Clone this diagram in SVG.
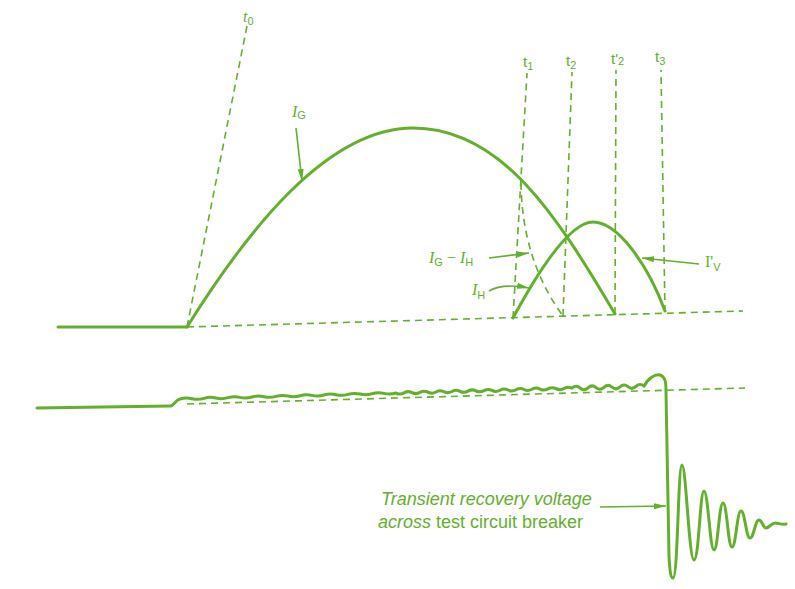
<svg xmlns="http://www.w3.org/2000/svg" width="795" height="589" viewBox="0 0 795 589">
<defs>
<style>
.solid{fill:none;stroke:#62b02c;stroke-width:3;stroke-linecap:round;stroke-linejoin:round}
.dash{fill:none;stroke:#62b02c;stroke-width:1.6;stroke-dasharray:7 5}
.arr{fill:none;stroke:#62b02c;stroke-width:1.6;marker-end:url(#ah)}
.lab{fill:#62b02c;font-family:"Liberation Serif",serif;font-size:16px}
.it{font-style:italic}
.sub{font-family:"Liberation Sans",sans-serif;font-size:11px;font-style:normal}
.sans{fill:#62b02c;font-family:"Liberation Sans",sans-serif;font-size:15px}
.note{fill:#62b02c;font-family:"Liberation Sans",sans-serif;font-size:18px}
</style>
<marker id="ah" markerUnits="userSpaceOnUse" markerWidth="13" markerHeight="8" refX="12" refY="4" orient="auto">
<path d="M0,1 L12,4 L0,7 z" fill="#62b02c"/>
</marker>
</defs>
<rect width="795" height="589" fill="#ffffff"/>

<g id="time-markers">
<path class="dash" d="M187,327 L743,311"/>
<path class="dash" d="M187,327 L247,26"/>
<path class="dash" d="M513,318 L527,73"/>
<path class="dash" d="M563,316 L572,72"/>
<path class="dash" d="M615,314 L616,70"/>
<path class="dash" d="M665,312 L661,70"/>
<path class="dash" d="M187,404 L745,388"/>
</g>

<g id="label-t0"><text class="lab it" x="243" y="22" font-size="15">t<tspan class="sub" dy="3">0</tspan></text></g>
<g id="label-t1"><text class="sans" x="523" y="67">t<tspan font-size="11" dy="3">1</tspan></text></g>
<g id="label-t2"><text class="sans" x="566" y="66">t<tspan font-size="11" dy="3">2</tspan></text></g>
<g id="label-t2p"><text class="sans" x="611" y="64">t'<tspan font-size="11" dy="1">2</tspan></text></g>
<g id="label-t3"><text class="sans" x="655" y="62">t<tspan font-size="11" dy="3">3</tspan></text></g>

<g id="current-IG">
<path class="solid" d="M58,327 L187,327"/>
<path class="solid" d="M187,327 C247,231 327,128 413,128 C500,128 555,212 615,314"/>
<text class="lab it" x="292" y="117" font-size="17">I<tspan class="sub" dy="2">G</tspan></text>
</g>

<g id="current-IG-IH">
<path class="dash" d="M521,183 Q522,260 563,316"/>
<text class="lab it" x="429" y="263">I<tspan class="sub" dy="3">G</tspan><tspan font-style="normal" dy="-3"> − </tspan>I<tspan class="sub" dy="3">H</tspan></text>
</g>

<g id="current-IH">
<path class="solid" d="M513,318 C540,268 570,222 593,222 C618,222 648,265 665,311"/>
<text class="lab it" x="472" y="295">I<tspan class="sub" dy="4">H</tspan></text>
</g>

<g id="label-IV">
<text class="lab" x="705" y="267" font-size="17">I'<tspan class="sub" font-size="12" dy="4">V</tspan></text>
</g>

<g id="voltage-trace">
<path class="solid" d="M37,408 L170,406 C174,406 175,400 180,399 q6,-1.77 12,-0.33 t12,-0.33 t12,-0.33 t12,-0.33 t12,-0.33 t12,-0.33 t12,-0.33 t12,-0.33 t12,-0.33 t12,-0.33 t12,-0.33 t12,-0.33 t12,-0.33 t12,-0.33 t12,-0.33 t12,-0.33 t12,-0.33 t12,-0.33 q4,2.09 8,-0.22 t8,-0.22 t8,-0.22 t8,-0.22 t8,-0.22 t8,-0.22 t8,-0.22 t8,-0.22 t8,-0.22 t8,-0.22 t8,-0.22 t8,-0.22 t8,-0.22 t8,-0.22 t8,-0.22 t8,-0.22 t8,-0.22 t8,-0.22 t8,-0.22 t8,-0.22 t8,-0.22 t8,-0.22 q4,-3.71 8,-0.22 t8,-0.22 t8,-0.22 t8,-0.22 t8,-0.22 t8,-0.22 t8,-0.22 t8,-0.22 t8,-0.22 C648,378 655,374 660,375 C666,377 666,384 666,392 L669,556 C670,574 671,578 673,578 C678,578 678,465 682,465 C686,465 689,560 694,560 C699,560 700,491 704,491 C708,491 710,550 714,550 C718,550 719,503 723,503 C727,503 728,547 732,547 C736,547 737,511 741,511 C745,511 746,538 750,538 C754,538 755,520 759,520 C762,520 763,528 766,528 C769,528 772,523 775,523 C779,523 781,525 786,524"/>
</g>

<g id="label-trv">
<text class="note it" x="381" y="505">Transient recovery voltage</text>
<text class="note" x="378" y="528" font-size="18.5"><tspan font-style="italic">across</tspan> test circuit breaker</text>
</g>

<g id="connectors">
<path class="arr" d="M296,128 L302,181"/>
<path class="arr" d="M489,258 L529,253"/>
<path class="arr" d="M489,291 Q502,283 529,288"/>
<path class="arr" d="M699,264 L642,258"/>
<path class="arr" d="M600,507 L666,506"/>
</g>
</svg>
